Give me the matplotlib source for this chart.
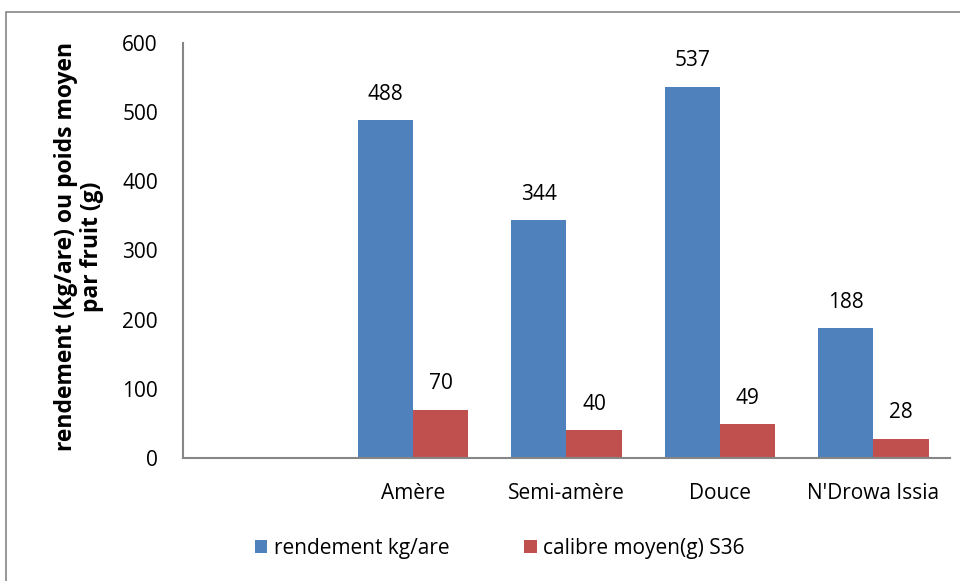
import matplotlib.pyplot as plt
import numpy as np
from matplotlib.patches import Rectangle

categories = ["", "Amère", "Semi-amère", "Douce", "N'Drowa Issia"]
rendement = [0, 488, 344, 537, 188]
calibre = [0, 70, 40, 49, 28]
labels_rendement = ["", "488", "344", "537", "188"]
labels_calibre = ["", "70", "40", "49", "28"]

plt.rcParams['font.family'] = ['Open Sans', 'DejaVu Sans']

fig = plt.figure(figsize=(9.6, 5.81), dpi=100)
ax = fig.add_axes([0.1906, 0.2117, 0.7990, 0.7143])

# cadre autour du graphique
fig.patches.append(Rectangle((6 / 960, -0.05), 1.1, 1 - 12 / 581 + 0.05,
                             transform=fig.transFigure, fill=False,
                             edgecolor='#868686', linewidth=1.2))

x = np.arange(len(categories))
w = 0.36
b1 = ax.bar(x - w / 2, rendement, w, color='#4F81BD', label='rendement kg/are')
b2 = ax.bar(x + w / 2, calibre, w, color='#C0504D', label='calibre moyen(g) S36')

for bars, labs in [(b1, labels_rendement), (b2, labels_calibre)]:
    for rect, txt in zip(bars, labs):
        if txt:
            ax.annotate(txt, (rect.get_x() + rect.get_width() / 2, rect.get_height()),
                        xytext=(0, 11), textcoords='offset points',
                        ha='center', va='bottom', fontsize=15)

ax.set_xlim(-0.5, len(categories) - 0.5)
ax.set_ylim(0, 600)
ax.set_yticks(range(0, 601, 100))
ax.set_xticks(x)
ax.set_xticklabels(categories, fontsize=15)
ax.tick_params(axis='x', length=0, pad=18)
ax.tick_params(axis='y', length=0, pad=18, labelsize=15)

for s in ['top', 'right']:
    ax.spines[s].set_visible(False)
for s in ['left', 'bottom']:
    ax.spines[s].set_color('#868686')
    ax.spines[s].set_linewidth(1.5)

ax.set_ylabel("rendement (kg/are) ou poids moyen\npar fruit (g)",
              fontsize=16.5, fontweight='bold', linespacing=1.1)
ax.yaxis.set_label_coords(-0.103, 0.51)

ax.legend(loc='center', bbox_to_anchor=(0.413, -0.217), ncol=2, frameon=False,
          fontsize=15, handlelength=0.6, handleheight=0.6, handletextpad=0.3,
          columnspacing=3.6)

fig.savefig('out.png', dpi=100)
